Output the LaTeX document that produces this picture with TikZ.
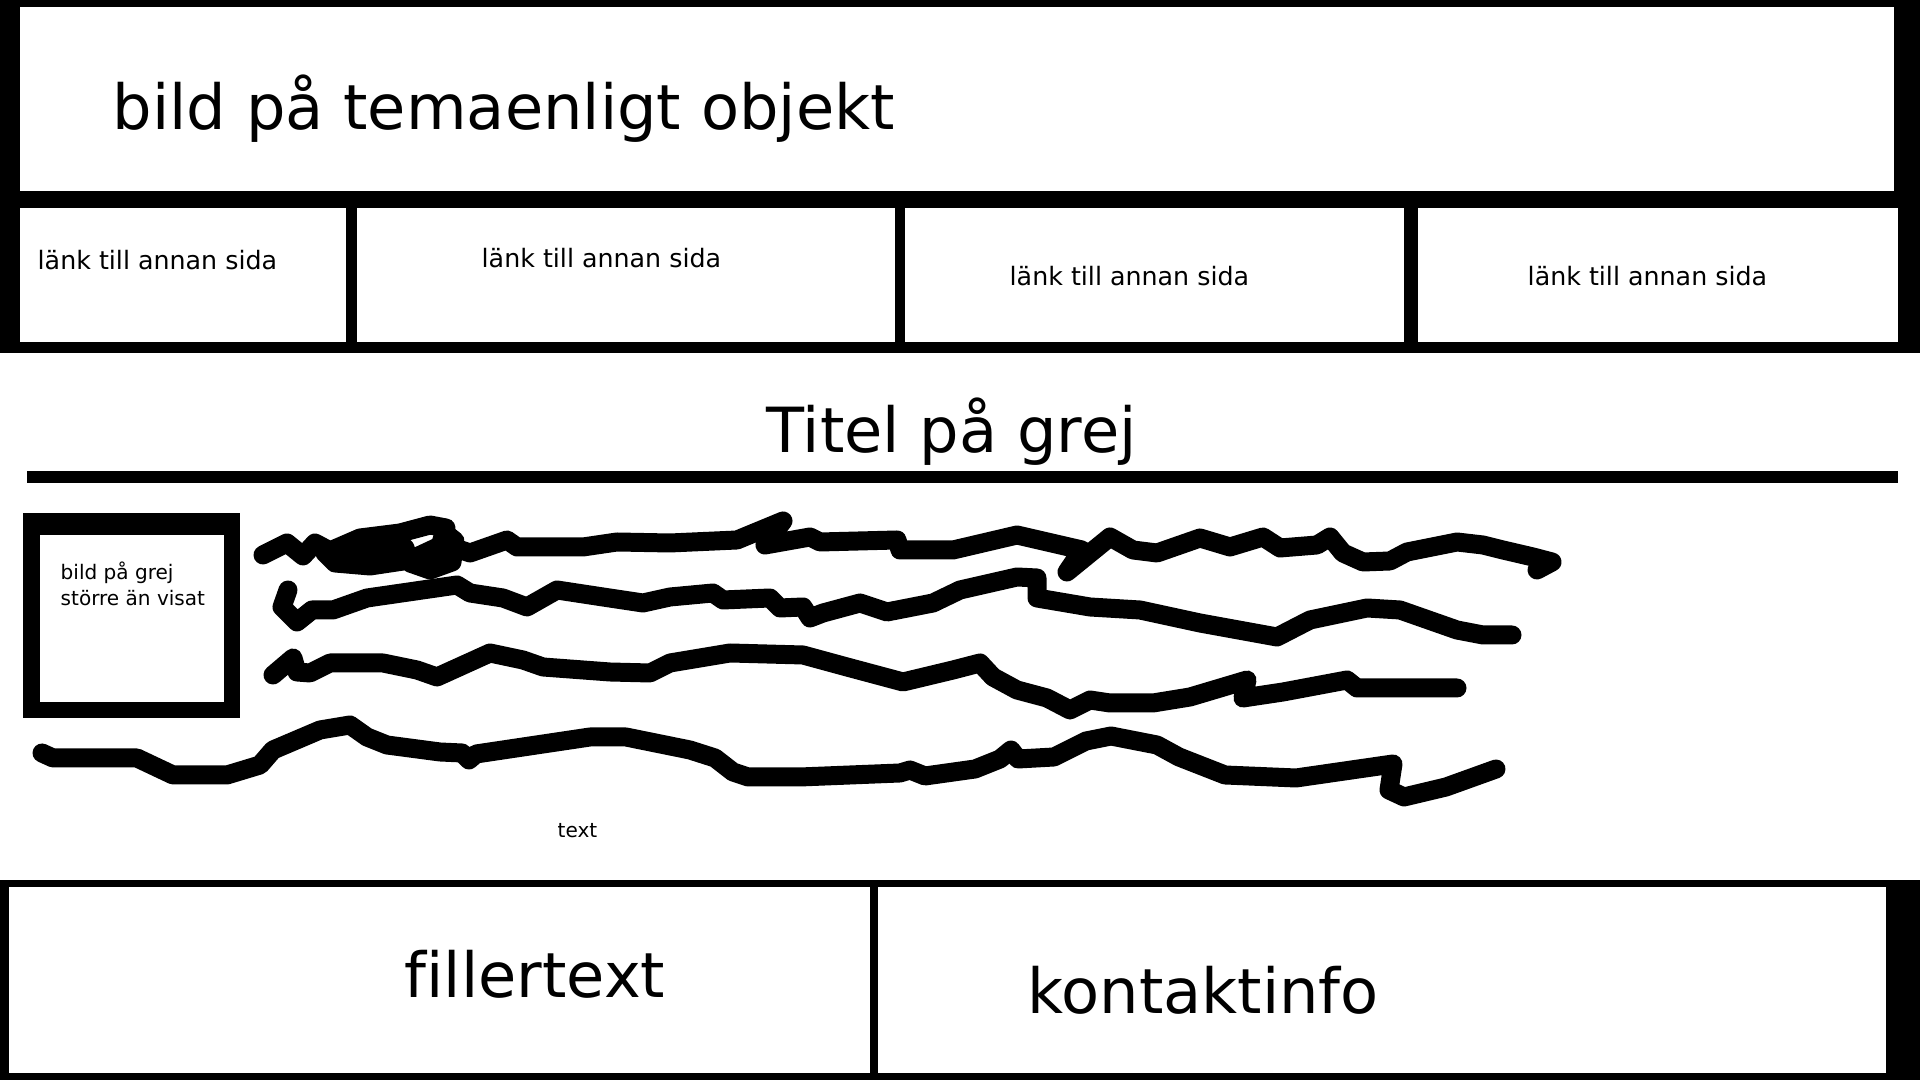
\documentclass[tikz,border=0pt]{standalone}
\usepackage{fontspec}
\setmainfont[Ligatures=NoCommon]{DejaVu Sans}
\usepackage{tikz}

\begin{document}
\begin{tikzpicture}[x=0.01cm,y=-0.01cm]
\tikzstyle{every node}+=[inner sep=0pt]
\tikzstyle{scribble}=[black,line width=5.4pt,line cap=round,line join=round]
\tikzstyle{bigtext}=[anchor=base west,font=\fontsize{17.7}{21}\selectfont]
\tikzstyle{linktext}=[anchor=base west,font=\fontsize{7.2}{9}\selectfont]
\tikzstyle{smalltext}=[anchor=base west,font=\fontsize{5.7}{7}\selectfont]
\useasboundingbox (0,0) rectangle (1920,1080);
\fill [white] (0,0) rectangle (1920,1080);
\fill [black] (0,0) rectangle (1920,353);
\fill [white] (20,7) rectangle (1894,191);
\fill [white] (20,208) rectangle (346,342);
\fill [white] (357,208) rectangle (895,342);
\fill [white] (905,208) rectangle (1404,342);
\fill [white] (1418,208) rectangle (1898,342);
\node [bigtext] (header) at (112,130) {bild på temaenligt objekt};
\node [linktext] (link1) at (37,270) {länk till annan sida};
\node [linktext] (link2) at (481,268) {länk till annan sida};
\node [linktext] (link3) at (1009,286) {länk till annan sida};
\node [linktext] (link4) at (1527,286) {länk till annan sida};
\node [bigtext] (title) at (766,453) {Titel på grej};
\fill [black] (27,471) rectangle (1898,483);
\fill [black] (23,513) rectangle (240,718);
\fill [white] (40,535) rectangle (224,702);
\node [smalltext] (pic1) at (60,580) {bild på grej};
\node [smalltext] (pic2) at (60,606) {större än visat};
\draw [scribble] (263,555) -- (287,543) -- (303,556) -- (315,543) -- (330,551) -- (360,538)
  -- (400,533) -- (430,525) -- (446,528) -- (440,546) -- (410,560) -- (370,566) -- (335,563)
  -- (325,553) -- (360,547) -- (405,548) -- (410,563) -- (430,570) -- (452,562) -- (455,541)
  -- (445,533) -- (455,548) -- (470,553) -- (507,540) -- (517,547) -- (583,547) -- (617,542)
  -- (670,543) -- (737,540) -- (783,521) -- (765,545) -- (810,537) -- (820,542) -- (897,540)
  -- (900,550) -- (953,550) -- (1017,535) -- (1082,550) -- (1067,572) -- (1110,537)
  -- (1133,550) -- (1157,553) -- (1200,538) -- (1230,547) -- (1263,537) -- (1280,548)
  -- (1317,545) -- (1330,537) -- (1343,553) -- (1363,562) -- (1390,561) -- (1407,552)
  -- (1457,542) -- (1483,545) -- (1503,550) -- (1533,557) -- (1552,562) -- (1537,570);
\draw [scribble] (288,590) -- (282,607) -- (297,622) -- (312,610) -- (333,610) -- (367,598)
  -- (457,585) -- (470,593) -- (503,598) -- (527,607) -- (557,590) -- (603,597) -- (643,603)
  -- (670,597) -- (713,593) -- (723,600) -- (770,598) -- (780,608) -- (803,607) -- (810,618)
  -- (823,613) -- (860,603) -- (887,612) -- (933,603) -- (960,590) -- (1017,577) -- (1037,578)
  -- (1037,598) -- (1090,607) -- (1140,610) -- (1200,623) -- (1277,637) -- (1310,620)
  -- (1367,608) -- (1400,610) -- (1457,630) -- (1483,635) -- (1512,635);
\draw [scribble] (273,675) -- (293,658) -- (297,672) -- (310,673) -- (330,663) -- (383,663)
  -- (417,670) -- (437,677) -- (490,653) -- (523,660) -- (543,667) -- (610,672) -- (650,673)
  -- (670,663) -- (730,653) -- (803,655) -- (847,667) -- (903,682) -- (953,670) -- (980,663)
  -- (993,677) -- (1017,690) -- (1047,698) -- (1070,710) -- (1090,700) -- (1110,703)
  -- (1153,703) -- (1190,697) -- (1247,680) -- (1243,698) -- (1283,692) -- (1347,680)
  -- (1357,688) -- (1457,688);
\draw [scribble] (42,753) -- (53,758) -- (137,758) -- (173,775) -- (227,775) -- (260,765)
  -- (273,750) -- (320,730) -- (350,725) -- (367,737) -- (387,745) -- (440,752) -- (462,753)
  -- (469,760) -- (476,754) -- (590,737) -- (626,737) -- (690,750) -- (715,758) -- (733,772)
  -- (748,777) -- (800,777) -- (900,773) -- (910,770) -- (925,776) -- (975,769) -- (1000,759)
  -- (1011,750) -- (1018,759) -- (1054,757) -- (1086,741) -- (1111,736) -- (1157,745)
  -- (1179,757) -- (1225,775) -- (1296,778) -- (1393,764) -- (1389,790) -- (1404,797)
  -- (1446,787) -- (1496,769);
\node [smalltext] (bodytext) at (557,838) {text};
\fill [black] (0,880) rectangle (1920,1080);
\fill [white] (9,887) rectangle (870,1073);
\fill [white] (878,887) rectangle (1886,1073);
\node [bigtext] (filler) at (404,998) {fillertext};
\node [bigtext] (contact) at (1027,1014) {kontaktinfo};
\end{tikzpicture}
\end{document}
